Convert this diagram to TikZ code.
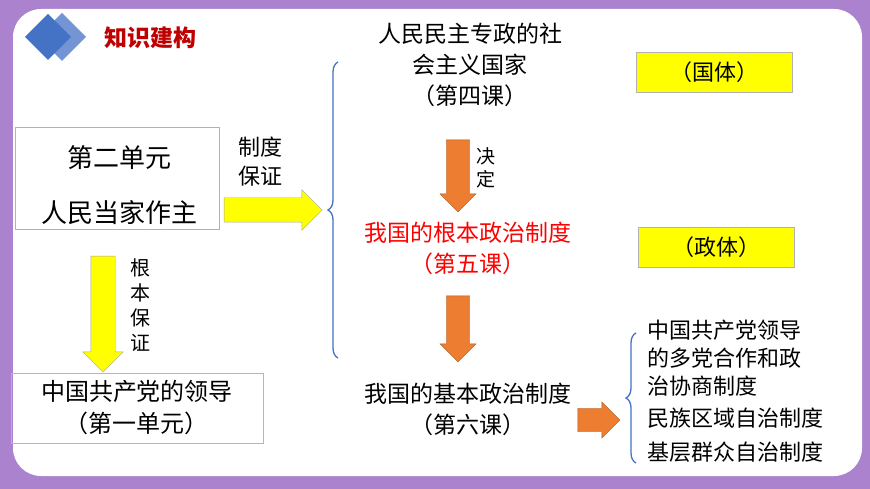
\documentclass[tikz,border=0pt]{standalone}
\usepackage{fontspec}
\setmainfont{Noto Sans CJK SC}
\usetikzlibrary{shapes.arrows,decorations.pathreplacing,positioning}
\definecolor{framepurple}{RGB}{170,130,205}
\definecolor{arrowyellow}{RGB}{255,255,0}
\definecolor{arroworange}{RGB}{237,125,49}
\definecolor{bracecol}{RGB}{68,114,196}
\definecolor{titlered}{RGB}{192,0,0}
\begin{document}
\begin{tikzpicture}[x=1pt,y=-1pt,
  txt/.style={font=\fontsize{23}{31}\selectfont, align=center},
  yarrow/.style={single arrow, draw=gray!70, fill=arrowyellow, single arrow head extend=8pt, minimum width=40pt, inner xsep=0pt, inner ysep=12pt},
  oarrow/.style={single arrow, draw=arroworange!70!black, fill=arroworange, single arrow head extend=6pt, minimum width=36pt, inner xsep=0pt, inner ysep=11pt},
  tag/.style={draw=gray!60, fill=arrowyellow, minimum width=156pt, minimum height=40pt, font=\fontsize{22}{24}\selectfont},
  brc/.style={draw=bracecol, line width=1.3pt, decorate, decoration={brace, amplitude=10pt}}]
\useasboundingbox (0,0) rectangle (870,489);
% frame
\fill[framepurple] (0,0) rectangle (870,489);
\fill[white, rounded corners=28pt] (13,9) rectangle (862,476);
% header
\fill[bracecol!75] (62,13) -- (86,37) -- (62,61) -- (38,37) -- cycle;
\fill[bracecol] (48,14) -- (71,37) -- (48,60) -- (25,37) -- cycle;
\node[font=\bfseries\fontsize{23}{26}\selectfont, text=titlered] (title) at (150,38) {知识建构};
% left column
\node[draw=gray!60, minimum width=204pt, minimum height=102pt] (unit2) at (117,178) {};
\node[txt, font=\fontsize{26}{28}\selectfont] (u2a) at (119,158) {第二单元};
\node[txt, font=\fontsize{26}{28}\selectfont] (u2b) at (119,213) {人民当家作主};
\node[draw=bracecol!50, minimum width=252pt, minimum height=70pt] (unit1) at (137,408) {};
\node[txt, font=\fontsize{24}{32}\selectfont] (u1) at (137,408) {中国共产党的领导\\（第一单元）};
\node[yarrow, rotate=-90, minimum height=116pt] (down1) at (103,308) {};
\node[txt, font=\fontsize{20}{25}\selectfont] (lab1) at (140,305) {根\\本\\保\\证};
\node[yarrow, minimum height=98pt] (right1) at (267,210) {};
\node[txt, font=\fontsize{22}{29}\selectfont] (lab2) at (260,162) {制度\\保证};
% middle column
\draw[brc] (338,358) -- (338,62);
\node[txt] (state) at (470,65) {人民民主专政的社\\会主义国家\\（第四课）};
\node[oarrow, rotate=-90, minimum height=72pt] (down2) at (458,170) {};
\node[txt, font=\fontsize{19}{23}\selectfont] (lab3) at (486,168) {决\\定};
\node[txt, text=red] (root) at (468,248) {我国的根本政治制度\\（第五课）};
\node[oarrow, rotate=-90, minimum height=66pt] (down3) at (458,323) {};
\node[txt] (basic) at (468,409) {我国的基本政治制度\\（第六课）};
\node[oarrow, minimum height=42pt] (right2) at (593,420) {};
% right column
\node[tag] (guoti) at (714,72) {（国体）};
\node[tag] (zhengti) at (716,247) {（政体）};
\draw[brc] (636,463) -- (636,333);
\node[txt, align=left, anchor=west, font=\fontsize{22}{28}\selectfont] (list1) at (644,358) {中国共产党领导\\的多党合作和政\\治协商制度};
\node[txt, anchor=west, font=\fontsize{22}{24}\selectfont] (list2) at (644,418) {民族区域自治制度};
\node[txt, anchor=west, font=\fontsize{22}{24}\selectfont] (list3) at (644,452) {基层群众自治制度};
\end{tikzpicture}
\end{document}
